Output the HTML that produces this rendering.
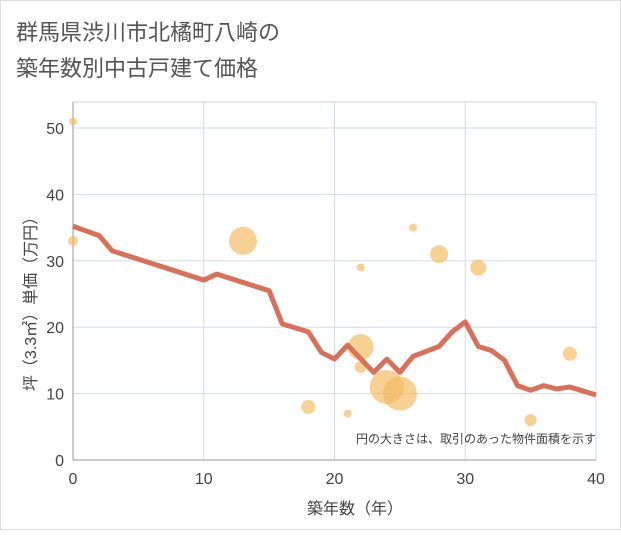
<!DOCTYPE html><html><head><meta charset="utf-8"><style>body{margin:0;background:#fff}svg{font-family:"Liberation Sans","Noto Sans CJK JP",sans-serif}</style></head><body>
<svg width="621" height="530">
<rect x="0.5" y="0.5" width="620" height="529" fill="#fff" stroke="#ddd"/>
<text x="16" y="40" font-size="22" fill="#555">群馬県渋川市北橘町八崎の</text>
<text x="16" y="76" font-size="22" fill="#555">築年数別中古戸建て価格</text>
<g id="grid"></g><g id="bub"></g><g id="ln"></g>
<text x="596" y="443" font-size="12" fill="#444" text-anchor="end">円の大きさは、取引のあった物件面積を示す</text>
<text x="355" y="514" font-size="16" fill="#444" text-anchor="middle">築年数（年）</text>
<text transform="translate(36,300) rotate(-90)" font-size="16" fill="#444" text-anchor="middle">坪（3.3㎡）単価（万円）</text>
</svg>
<script>
const xTicks=[0,10,20,30,40];
const yTicks=[0,10,20,30,40,50];
const lineYears=[0,2,3,10,11,15,16,18,19,20,21,23,24,25,26,28,29,30,31,32,33,34,35,36,37,38,40];
const linePrices=[35.2,33.8,31.5,27.1,28,25.5,20.5,19.3,16.2,15.2,17.3,13.2,15.2,13.2,15.6,17.1,19.3,20.8,17.1,16.5,15,11.2,10.5,11.2,10.7,11,9.8];
const bubbleYears=[0,0,13,18,21,22,22,22,24,25,26,28,31,35,38];
const bubblePrices=[51,33,33,8,7,29,17,14,11,10,35,31,29,6,16];
const bubbleSizes=[4,5,14,7,4,4,13,6,17,17,4,9,8,6,7];
const X=v=>73+v*13.075, Y=v=>460-v*6.64;
const NS='http://www.w3.org/2000/svg';
function mk(t,a,p){const e=document.createElementNS(NS,t);for(const k in a)e.setAttribute(k,a[k]);document.getElementById(p)?document.getElementById(p).appendChild(e):p.appendChild(e);return e;}
const svg=document.querySelector('svg');
mk('rect',{x:73,y:102,width:523,height:358,fill:'none',stroke:'#ccc'},'grid');
xTicks.forEach(v=>{const l=mk('line',{x1:X(v),x2:X(v),y1:102,y2:460,stroke:'#d0dbe6'},'grid');


const t=mk('text',{x:X(v),y:484,'font-size':16,fill:'#444','text-anchor':'middle'},'grid');t.textContent=v;

});
yTicks.forEach(v=>{const l=mk('line',{x1:73,x2:596,y1:Y(v),y2:Y(v),stroke:'#d0dbe6'},'grid');


const t=mk('text',{x:64,y:Y(v)+6,'font-size':16,fill:'#444','text-anchor':'end'},'grid');t.textContent=v;

});
mk('line',{x1:73,x2:73,y1:102,y2:460,stroke:'#999'},'grid');
mk('line',{x1:73,x2:596,y1:460,y2:460,stroke:'#999'},'grid');
bubbleYears.forEach((v,i)=>{const c=mk('circle',{cx:X(v),cy:Y(bubblePrices[i]),r:bubbleSizes[i],fill:'#f2b85a','fill-opacity':0.65},'bub');

});
const p=mk('polyline',{points:lineYears.map((v,i)=>X(v)+','+Y(linePrices[i])).join(' '),fill:'none',stroke:'#d9705a','stroke-width':5,'stroke-linejoin':'round'},'ln');


</script></body></html>
